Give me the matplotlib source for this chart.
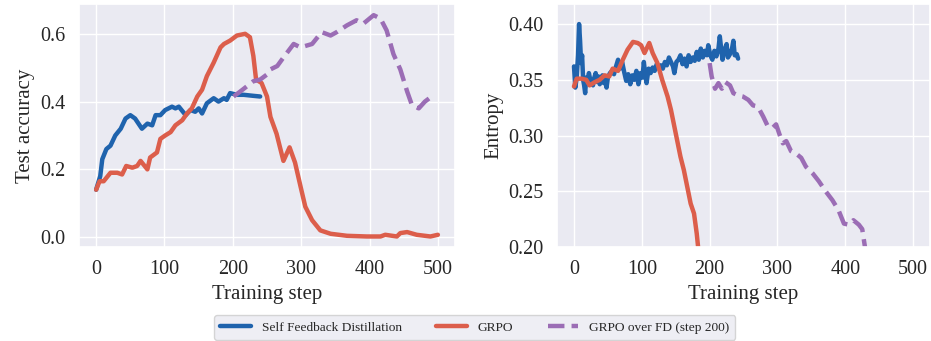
import numpy as np
import matplotlib
matplotlib.use("Agg")
import matplotlib.pyplot as plt
import seaborn as sns

# ---- test accuracy (left) ----
sfd_acc_step = [0, 6, 9, 15, 21, 28, 36, 43, 50, 57, 67, 75, 82, 87, 94, 101, 111, 116, 121,
                131, 138, 145, 150, 155, 162, 172, 179, 187, 191, 196, 206, 216, 230, 240]
sfd_acc = [0.14, 0.18, 0.23, 0.26, 0.27, 0.30, 0.32, 0.35, 0.36, 0.35, 0.32, 0.335, 0.33, 0.36,
           0.36, 0.375, 0.385, 0.38, 0.385, 0.36, 0.375, 0.37, 0.38, 0.365, 0.395, 0.41, 0.40,
           0.41, 0.405, 0.425, 0.42, 0.42, 0.417, 0.415]

grpo_acc_step = [0, 5, 11, 21, 31, 38, 44, 53, 60, 65, 75, 79, 89, 94, 101, 109, 116, 126, 133,
                 140, 148, 155, 162, 172, 182, 187, 196, 206, 218, 225, 230, 234, 242, 250, 255,
                 264, 274, 283, 291, 299, 306, 316, 328, 343, 367, 396, 416, 423, 440, 445, 455,
                 469, 489, 500]
grpo_acc = [0.14, 0.165, 0.165, 0.19, 0.19, 0.185, 0.21, 0.205, 0.21, 0.225, 0.20, 0.235, 0.25,
            0.29, 0.30, 0.31, 0.33, 0.345, 0.365, 0.38, 0.415, 0.435, 0.475, 0.515, 0.56, 0.57,
            0.58, 0.595, 0.60, 0.59, 0.535, 0.465, 0.455, 0.415, 0.355, 0.305, 0.225, 0.265,
            0.22, 0.15, 0.09, 0.05, 0.02, 0.01, 0.004, 0.002, 0.002, 0.007, 0.002, 0.012, 0.015,
            0.007, 0.002, 0.007]

fd_acc_step = [201, 211, 230, 240, 250, 255, 265, 274, 289, 299, 316, 330, 343, 352, 367, 381,
               391, 406, 416, 425, 435, 445, 455, 462, 472, 481, 494]
fd_acc = [0.415, 0.43, 0.46, 0.465, 0.48, 0.495, 0.505, 0.53, 0.57, 0.56, 0.57, 0.605, 0.595,
          0.605, 0.625, 0.64, 0.63, 0.655, 0.645, 0.61, 0.54, 0.495, 0.43, 0.39, 0.38, 0.40, 0.42]

# ---- entropy (right) ----
sfd_ent_step = [0, 2, 4, 6, 7.5, 9, 10.5, 12, 13.5, 15, 16.5, 18, 20, 22, 24, 26, 28, 30, 32, 34,
                36, 38, 40, 42, 44, 46, 48, 50, 53, 56, 59, 62, 65, 68, 71, 74, 77, 80, 83, 86,
                89, 92, 95, 98, 101, 103, 105, 107, 110, 113, 116, 119, 122, 125, 128, 131, 134,
                137, 140, 143, 146, 148, 151, 154, 157, 160, 163, 166, 169, 172, 175, 178, 181,
                184, 187, 190, 193, 196, 198, 201, 204, 207, 210, 213, 215, 217, 219, 222, 225,
                227, 230, 233, 235, 237, 240, 242]
sfd_ent = [0.362, 0.343, 0.352, 0.372, 0.400, 0.385, 0.365, 0.372, 0.350, 0.345, 0.338, 0.352,
           0.348, 0.356, 0.350, 0.347, 0.345, 0.352, 0.356, 0.348, 0.353, 0.346, 0.352, 0.354,
           0.347, 0.350, 0.343, 0.352, 0.356, 0.358, 0.355, 0.362, 0.368, 0.360, 0.366, 0.357,
           0.349, 0.355, 0.346, 0.354, 0.350, 0.358, 0.346, 0.356, 0.352, 0.366, 0.355, 0.347,
           0.360, 0.356, 0.361, 0.358, 0.364, 0.360, 0.363, 0.360, 0.366, 0.363, 0.370, 0.366,
           0.362, 0.356, 0.366, 0.368, 0.372, 0.364, 0.369, 0.362, 0.372, 0.366, 0.370, 0.367,
           0.375, 0.368, 0.378, 0.370, 0.376, 0.372, 0.381, 0.372, 0.368, 0.376, 0.371, 0.378,
           0.389, 0.378, 0.368, 0.377, 0.382, 0.370, 0.373, 0.378, 0.385, 0.372, 0.373, 0.369]

grpo_ent_step = [0, 4, 11, 18, 23, 31, 38, 45, 52, 57, 65, 72, 79, 87, 94, 99, 104, 111, 116,
                 123, 130, 138, 143, 147, 152, 157, 162, 167, 172, 177, 181, 183, 190]
grpo_ent = [0.344, 0.351, 0.351, 0.35, 0.345, 0.348, 0.35, 0.354, 0.353, 0.36, 0.358, 0.368,
            0.377, 0.384, 0.383, 0.381, 0.374, 0.383, 0.374, 0.365, 0.35, 0.335, 0.323, 0.311,
            0.296, 0.281, 0.269, 0.254, 0.239, 0.23, 0.212, 0.20, 0.18]

fd_ent_step = [200, 203, 208, 213, 218, 223, 230, 235, 242, 249, 257, 264, 271, 279, 286, 293,
               298, 303, 308, 313, 320, 327, 335, 342, 352, 361, 371, 381, 390, 398, 405, 412,
               420, 425, 429, 435]
fd_ent = [0.365, 0.353, 0.342, 0.347, 0.342, 0.348, 0.345, 0.338, 0.336, 0.335, 0.332, 0.327,
          0.326, 0.317, 0.308, 0.307, 0.31, 0.301, 0.293, 0.295, 0.286, 0.284, 0.28, 0.272,
          0.266, 0.259, 0.25, 0.242, 0.233, 0.221, 0.22, 0.224, 0.22, 0.216, 0.20, 0.18]

labels = ["Self Feedback Distillation", "GRPO", "GRPO over FD (step 200)"]
c_blue, c_red, c_purple = "#1f63ad", "#dc5e4b", "#9b6db5"

sns.set_theme(style="darkgrid")
plt.rcParams["font.family"] = ["Liberation Serif", "DejaVu Serif"]

fig = plt.figure(figsize=(9.31, 3.41), dpi=100)
ax1 = fig.add_axes([0.0849, 0.2757, 0.4038, 0.7126])
ax2 = fig.add_axes([0.5983, 0.2757, 0.4007, 0.7126])

lw = 3.2
ax1.plot(sfd_acc_step, sfd_acc, color=c_blue, lw=lw, label=labels[0])
ax1.plot(grpo_acc_step, grpo_acc, color=c_red, lw=lw, label=labels[1])
ax1.plot(fd_acc_step, fd_acc, color=c_purple, lw=lw, ls="--", label=labels[2])

ax2.plot(sfd_ent_step, sfd_ent, color=c_blue, lw=lw)
ax2.plot(grpo_ent_step, grpo_ent, color=c_red, lw=lw)
ax2.plot(fd_ent_step, fd_ent, color=c_purple, lw=lw, ls="--")

for ax in (ax1, ax2):
    ax.set_xlim(-25, 525)
    ax.set_xticks([0, 100, 200, 300, 400, 500])
    ax.set_xlabel("Training step", fontsize=15)
    ax.tick_params(labelsize=14.5)

ax1.set_ylim(-0.029, 0.688)
ax1.set_yticks([0.0, 0.2, 0.4, 0.6])
ax1.set_yticklabels(["0.0", "0.2", "0.4", "0.6"])
ax1.set_ylabel("Test accuracy", fontsize=15)

ax2.set_ylim(0.2, 0.418)
ax2.set_yticks([0.20, 0.25, 0.30, 0.35, 0.40])
ax2.set_yticklabels(["0.20", "0.25", "0.30", "0.35", "0.40"])
ax2.set_ylabel("Entropy", fontsize=15)

fig.legend(loc="center", bbox_to_anchor=(0.51, 0.04), ncol=3, fontsize=9.6,
           frameon=True, columnspacing=2.6, handlelength=2.3, borderaxespad=0.2,
           borderpad=0.45)

fig.savefig("out.png", dpi=100)
